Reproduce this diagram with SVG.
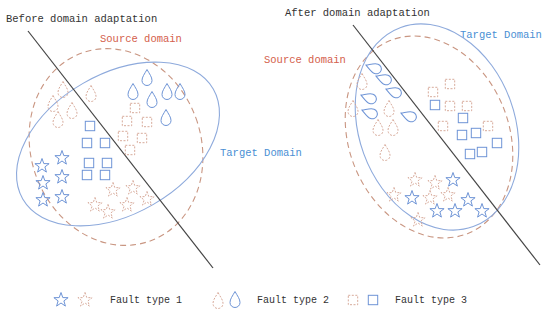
<svg xmlns="http://www.w3.org/2000/svg" xmlns:xlink="http://www.w3.org/1999/xlink" width="550" height="313" viewBox="0 0 550 313">
<style>
.t{font-family:"Liberation Mono","DejaVu Sans Mono",monospace;font-size:10.5px}
.blk{fill:#333}
.red{fill:#d4604c}
.blu{fill:#4a8fd4}
.sep{stroke:#444;stroke-width:1.2;fill:none}
.dom-s{fill:none;stroke:#c99682;stroke-width:1.1;stroke-dasharray:6,4}
.dom-t{fill:none;stroke:#8eaadc;stroke-width:1.1}
.b{fill:none;stroke:#6e94d6;stroke-width:1}
.r{fill:none;stroke:#d3a08e;stroke-width:0.9;stroke-dasharray:2,1.5}
</style>
<defs>
<path id="star" d="M0,-7.5 L1.8,-2.4 L7.1,-2.3 L2.9,0.9 L4.4,6.1 L0,3 L-4.4,6.1 L-2.9,0.9 L-7.1,-2.3 L-1.8,-2.4 Z"/>
<path id="drop" d="M0,-8.5 C2.5,-4 5,-1 5,2.5 A5,5 0 0 1 -5,2.5 C-5,-1 -2.5,-4 0,-8.5 Z"/>
<rect id="sq" x="-4.7" y="-4.7" width="9.4" height="9.4"/>
</defs>

<g id="left-panel-labels">
<text class="t blk" x="6" y="22">Before domain adaptation</text>
<text class="t red" x="100" y="42">Source domain</text>
<text class="t blu" x="220" y="156">Target Domain</text>
</g>

<g id="right-panel-labels">
<text class="t blk" x="285" y="16">After domain adaptation</text>
<text class="t red" x="264" y="63">Source domain</text>
<text class="t blu" x="460" y="38">Target Domain</text>
</g>

<g id="left-source-domain">
<ellipse class="dom-s" cx="116" cy="147" rx="85" ry="100" transform="rotate(-20 116 147)"/>
</g>
<g id="left-target-domain">
<ellipse class="dom-t" cx="118" cy="144" rx="110" ry="70" transform="rotate(-30 118 144)"/>
</g>
<g id="right-source-domain">
<ellipse class="dom-s" cx="429" cy="137" rx="80" ry="104" transform="rotate(-22 429 137)"/>
</g>
<g id="right-target-domain">
<ellipse class="dom-t" cx="437" cy="127" rx="78" ry="106" transform="rotate(-20 437 127)"/>
</g>

<g id="connectors">
<line class="sep" x1="28" y1="31" x2="213" y2="268"/>
<line class="sep" x1="353" y1="25" x2="540" y2="265"/>
</g>

<g id="left-samples">
<g class="b">
<use xlink:href="#drop" x="147" y="78"/>
<use xlink:href="#drop" x="133" y="92"/>
<use xlink:href="#drop" x="167" y="92"/>
<use xlink:href="#drop" x="180" y="92"/>
<use xlink:href="#drop" x="152" y="100"/>
<use xlink:href="#drop" x="166" y="118"/>
<use xlink:href="#sq" x="90" y="126"/>
<use xlink:href="#sq" x="87" y="143"/>
<use xlink:href="#sq" x="105" y="143"/>
<use xlink:href="#sq" x="89" y="163"/>
<use xlink:href="#sq" x="107" y="163"/>
<use xlink:href="#sq" x="87" y="175"/>
<use xlink:href="#sq" x="105" y="175"/>
<use xlink:href="#star" x="42" y="166"/>
<use xlink:href="#star" x="62" y="158"/>
<use xlink:href="#star" x="43" y="183"/>
<use xlink:href="#star" x="62" y="177"/>
<use xlink:href="#star" x="43" y="200"/>
<use xlink:href="#star" x="62" y="197"/>
</g>
<g class="r">
<use xlink:href="#drop" x="63" y="90"/>
<use xlink:href="#drop" x="91" y="94"/>
<use xlink:href="#drop" x="53" y="104"/>
<use xlink:href="#drop" x="72" y="111"/>
<use xlink:href="#drop" x="58" y="120"/>
<use xlink:href="#sq" x="135" y="108"/>
<use xlink:href="#sq" x="127" y="121"/>
<use xlink:href="#sq" x="147" y="122"/>
<use xlink:href="#sq" x="123" y="136"/>
<use xlink:href="#sq" x="142" y="138"/>
<use xlink:href="#sq" x="130" y="150"/>
<use xlink:href="#star" x="113" y="190"/>
<use xlink:href="#star" x="133" y="188"/>
<use xlink:href="#star" x="147" y="199"/>
<use xlink:href="#star" x="127" y="205"/>
<use xlink:href="#star" x="95" y="205"/>
<use xlink:href="#star" x="108" y="212"/>
</g>
</g>

<g id="right-samples">
<g class="b">
<use xlink:href="#drop" transform="translate(374 68) rotate(-70)"/>
<use xlink:href="#drop" transform="translate(384 79) rotate(-70)"/>
<use xlink:href="#drop" transform="translate(394 92) rotate(-70)"/>
<use xlink:href="#drop" transform="translate(369 98) rotate(-70)"/>
<use xlink:href="#drop" transform="translate(370 113) rotate(-70)"/>
<use xlink:href="#drop" transform="translate(409 116) rotate(-70)"/>
<use xlink:href="#sq" x="435" y="105"/>
<use xlink:href="#sq" x="463" y="118"/>
<use xlink:href="#sq" x="462" y="135"/>
<use xlink:href="#sq" x="476" y="133"/>
<use xlink:href="#sq" x="497" y="143"/>
<use xlink:href="#sq" x="470" y="154"/>
<use xlink:href="#sq" x="482" y="152"/>
<use xlink:href="#star" x="453" y="180"/>
<use xlink:href="#star" x="412" y="198"/>
<use xlink:href="#star" x="468" y="200"/>
<use xlink:href="#star" x="437" y="211"/>
<use xlink:href="#star" x="455" y="211"/>
<use xlink:href="#star" x="482" y="211"/>
</g>
<g class="r">
<use xlink:href="#drop" x="362" y="82"/>
<use xlink:href="#drop" x="353" y="109"/>
<use xlink:href="#drop" x="389" y="109"/>
<use xlink:href="#drop" x="378" y="128"/>
<use xlink:href="#drop" x="393" y="128"/>
<use xlink:href="#drop" x="385" y="153"/>
<use xlink:href="#sq" x="450" y="84"/>
<use xlink:href="#sq" x="433" y="92"/>
<use xlink:href="#sq" x="450" y="106"/>
<use xlink:href="#sq" x="467" y="106"/>
<use xlink:href="#sq" x="443" y="126"/>
<use xlink:href="#sq" x="488" y="126"/>
<use xlink:href="#star" x="415" y="180"/>
<use xlink:href="#star" x="435" y="183"/>
<use xlink:href="#star" x="430" y="198"/>
<use xlink:href="#star" x="448" y="195"/>
<use xlink:href="#star" x="394" y="195"/>
<use xlink:href="#star" x="418" y="220"/>
</g>
</g>

<g id="legend">
<use class="b" xlink:href="#star" x="61" y="300"/>
<use class="r" xlink:href="#star" x="85" y="300"/>
<text class="t blk" x="110" y="303" style="font-size:10px">Fault type 1</text>
<use class="r" xlink:href="#drop" x="218" y="301"/>
<use class="b" xlink:href="#drop" x="235" y="300"/>
<text class="t blk" x="257" y="303" style="font-size:10px">Fault type 2</text>
<use class="r" xlink:href="#sq" x="353" y="300"/>
<use class="b" xlink:href="#sq" x="373" y="300"/>
<text class="t blk" x="395" y="303" style="font-size:10px">Fault type 3</text>
</g>
</svg>
